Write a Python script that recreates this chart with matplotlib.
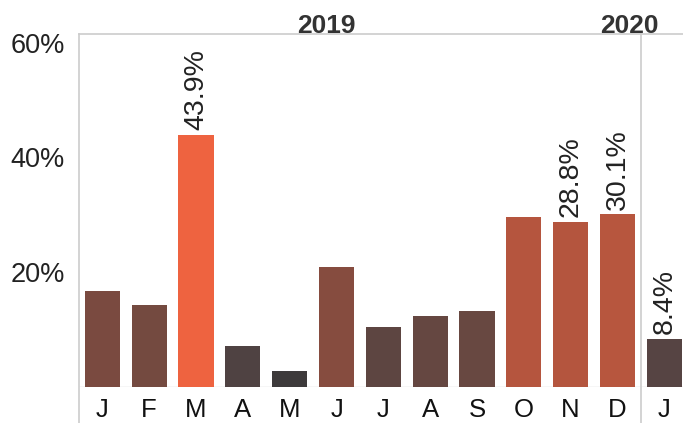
import matplotlib
matplotlib.use('Agg')
import matplotlib.pyplot as plt

# Monthly share, Jan 2019 .. Jan 2020
months = ['J', 'F', 'M', 'A', 'M', 'J', 'J', 'A', 'S', 'O', 'N', 'D', 'J']
values = [16.7, 14.2, 43.9, 7.2, 2.8, 20.9, 10.5, 12.4, 13.3, 29.6, 28.8, 30.1, 8.4]
colors = ['#7a4a40', '#744a40', '#ee6340', '#4f4242', '#3d3a3b', '#864c3f',
          '#5d4541', '#654741', '#684841', '#b5553e', '#b4553e', '#b7563e', '#564443']
labelled = [2, 10, 11, 12]
yticks = [20, 40, 60]
years = ['2019', '2020']
year_pos = [4.78, 11.25]

plt.rcParams['font.family'] = ['Liberation Sans', 'DejaVu Sans']

W, H = 683, 423
fig = plt.figure(figsize=(W / 100, H / 100), dpi=100)
left, top, base = 79, 34, 387
ax = fig.add_axes([left / W, 1 - base / H, 1 - left / W, (base - top) / H])

x = list(range(len(months)))
ax.bar(x, values, width=0.75, color=colors, zorder=2)

for i in labelled:
    ax.text(i, values[i] + 0.8, f'{values[i]:.1f}%', rotation=90,
            ha='center', va='bottom', fontsize=20.5, color='#222222')

ax.set_xlim(-0.5, 12.4)
ax.set_ylim(0, 61.5)
ax.set_xticks(x)
ax.set_xticklabels(months, fontsize=18.5, color='#111111')
ax.set_yticks(yticks)
ax.set_yticklabels([f'{v}%' for v in yticks], fontsize=19.5, color='#222222')
ax.tick_params(length=0)
ax.tick_params(axis='x', pad=8)
ax.tick_params(axis='y', pad=10)

for s in ['left', 'right', 'bottom']:
    ax.spines[s].set_visible(False)
ax.spines['top'].set_color('#cccccc')
ax.spines['top'].set_linewidth(1.2)
ax.axhline(0, color='#d5d5d5', lw=1, zorder=1)

# vertical rules running down through the month header row
px = 61.5 / (base - top)
ybot = -(H - base) * px
for xv in [-0.5, 11.5]:
    ax.plot([xv, xv], [ybot, 61.5], color='#cccccc', lw=1.2, clip_on=False, zorder=1)

for yr, xp in zip(years, year_pos):
    ax.text(xp, 61.5 + 1.2 * px, yr, ha='center', va='baseline', fontsize=19,
            fontweight='bold', color='#333333')

fig.savefig('out.png', dpi=100)
